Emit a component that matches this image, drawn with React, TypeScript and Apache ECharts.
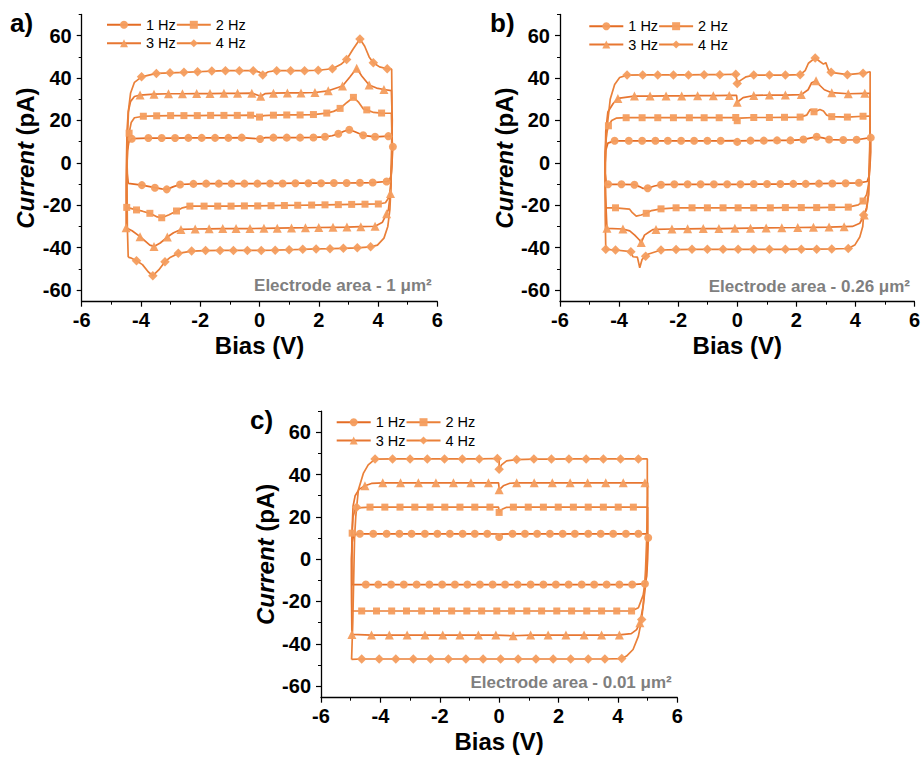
import React, { useEffect, useRef } from 'react';
import * as echarts from 'echarts';

type Pt = [number, number, number?];

// ---- Panel a (Electrode area 1 µm²): loops [bias V, current pA, marker flag]
const a1Hz: Pt[] = [
  [-4.43, -9.7], [-4.46, -5], [-4.47, 0], [-4.45, 6], [-4.41, 9.8], [-4.31, 11.4, 1],
  [-3.75, 11.7, 1], [-3.3, 11.7, 1], [-2.85, 11.7, 1], [-2.4, 11.8, 1], [-1.95, 11.8, 1], [-1.5, 11.8, 1],
  [-1.05, 11.8, 1], [-0.6, 11.9, 1], [0.02, 11.3, 1], [0.2, 11.9], [0.47, 11.9, 1], [0.92, 11.9, 1],
  [1.37, 11.9, 1], [1.82, 12.0, 1], [2.21, 12.3, 1], [2.45, 12.8], [2.66, 13.7, 1], [2.85, 14.9],
  [3.03, 15.6, 1], [3.2, 14.8], [3.5, 13.0, 1], [3.9, 12.3, 1], [4.35, 12.6, 1], [4.45, 12.6],
  [4.5, 7.6, 1], [4.47, 0], [4.44, -6], [4.38, -8.4], [4.29, -8.8, 1],
  [3.82, -9.3, 1], [3.39, -9.4, 1], [2.94, -9.5, 1], [2.51, -9.5, 1], [2.08, -9.6, 1], [1.65, -9.6, 1],
  [1.21, -9.6, 1], [0.78, -9.7, 1], [0.36, -9.7, 1], [-0.07, -9.8, 1], [-0.51, -9.8, 1], [-0.94, -9.8, 1],
  [-1.37, -9.8, 1], [-1.8, -9.8, 1], [-2.23, -9.9, 1], [-2.68, -10.2, 1], [-2.9, -11.2], [-3.13, -12.5, 1],
  [-3.3, -12.3], [-3.53, -11.7, 1], [-3.97, -10.5, 1], [-4.3, -9.9], [-4.43, -9.7],
];
const a2Hz: Pt[] = [
  [-4.48, -21.0], [-4.49, -10], [-4.47, 5], [-4.4, 14, 1], [-4.33, 19], [-4.22, 21.3], [-3.92, 22.0, 1],
  [-3.47, 22.2, 1], [-3.0, 22.3, 1], [-2.55, 22.3, 1], [-2.1, 22.3, 1], [-1.65, 22.4, 1], [-1.2, 22.4, 1],
  [-0.75, 22.4, 1], [-0.3, 22.5, 1], [0.0, 21.6, 1], [0.15, 22.3], [0.47, 22.5, 1], [0.92, 22.6, 1],
  [1.37, 22.6, 1], [1.82, 22.8, 1], [2.27, 23.5, 1], [2.5, 24.3], [2.72, 25.7, 1], [2.95, 28.5],
  [3.17, 30.9, 1], [3.35, 28.5], [3.5, 25.5], [3.62, 25.0, 1], [3.85, 23.8], [4.12, 23.5, 1], [4.45, 23.4],
  [4.48, 10], [4.46, 0], [4.43, -10], [4.38, -16], [4.25, -18.8], [4.01, -19.4, 1],
  [3.56, -19.5, 1], [3.11, -19.6, 1], [2.66, -19.7, 1], [2.21, -19.8, 1], [1.76, -19.9, 1], [1.29, -20.0, 1],
  [0.84, -20.1, 1], [0.39, -20.2, 1], [-0.06, -20.3, 1], [-0.51, -20.3, 1], [-0.96, -20.4, 1], [-1.41, -20.4, 1],
  [-1.87, -20.4, 1], [-2.35, -20.4, 1], [-2.6, -21.2], [-2.8, -22.7, 1], [-3.05, -24.5], [-3.3, -25.9, 1],
  [-3.45, -25.5], [-3.7, -23.8, 1], [-3.95, -22.8], [-4.15, -22.2, 1], [-4.48, -21.0, 1],
];
const a3Hz: Pt[] = [
  [-4.5, -30.6, 1], [-4.5, -15], [-4.49, 0], [-4.47, 15], [-4.43, 24], [-4.35, 29], [-4.22, 31.3],
  [-4.03, 32.0, 1], [-3.56, 32.4, 1], [-3.07, 32.6, 1], [-2.6, 32.6, 1], [-2.12, 32.7, 1], [-1.67, 32.7, 1],
  [-1.2, 32.8, 1], [-0.74, 32.8, 1], [-0.26, 32.9, 1], [0.04, 31.4, 1], [0.2, 32.7], [0.47, 32.9, 1],
  [0.94, 33.0, 1], [1.4, 33.0, 1], [1.87, 33.2, 1], [2.32, 34.0, 1], [2.8, 36.3, 1], [3.05, 40.5],
  [3.28, 44.6, 1], [3.45, 41.0], [3.7, 36.7, 1], [3.95, 35.3], [4.2, 34.6, 1], [4.45, 34.1],
  [4.48, 20], [4.46, 0], [4.42, -14.4, 1], [4.35, -22], [4.29, -24, 1], [4.15, -28], [3.9, -29.9, 1],
  [3.42, -30.1, 1], [2.95, -30.3, 1], [2.48, -30.4, 1], [2.0, -30.5, 1], [1.55, -30.6, 1], [1.08, -30.7, 1],
  [0.6, -30.8, 1], [0.15, -30.9, 1], [-0.32, -31.0, 1], [-0.79, -31.0, 1], [-1.24, -31.0, 1], [-1.7, -31.1, 1],
  [-2.17, -31.2, 1], [-2.65, -31.4, 1], [-2.9, -33.0], [-3.11, -35.0, 1], [-3.35, -37.8], [-3.56, -39.4, 1],
  [-3.7, -38.8], [-4.03, -34.8, 1], [-4.3, -32.0], [-4.5, -30.6],
];
const a4Hz: Pt[] = [
  [-4.43, -44.5], [-4.46, -30], [-4.47, -10], [-4.46, 10], [-4.42, 25], [-4.35, 33], [-4.22, 38],
  [-3.98, 40.6, 1], [-3.48, 42.2, 1], [-3.02, 42.5, 1], [-2.55, 42.7, 1], [-2.09, 43.0, 1], [-1.61, 43.3, 1],
  [-1.15, 43.5, 1], [-0.68, 43.5, 1], [-0.21, 43.5, 1], [0.0, 42.8], [0.11, 41.5, 1], [0.3, 43.0],
  [0.58, 43.5, 1], [1.05, 43.5, 1], [1.52, 43.5, 1], [1.98, 43.7, 1], [2.46, 44.4, 1], [2.75, 46.5],
  [2.94, 48.8, 1], [3.15, 53.5], [3.39, 58.4, 1], [3.55, 55.0], [3.7, 50.0], [3.84, 47.2, 1], [4.05, 45.3],
  [4.31, 44.4, 1], [4.46, 44.2],
  [4.47, 30], [4.46, 10], [4.44, -10], [4.4, -22], [4.33, -30], [4.2, -35.5], [3.98, -38.8], [3.75, -39.6, 1],
  [3.3, -40.1, 1], [2.83, -40.3, 1], [2.38, -40.5, 1], [1.91, -40.6, 1], [1.46, -40.8, 1], [1.0, -41.0, 1],
  [0.53, -41.2, 1], [0.06, -41.3, 1], [-0.41, -41.3, 1], [-0.88, -41.3, 1], [-1.33, -41.3, 1], [-1.82, -41.4, 1],
  [-2.29, -41.6, 1], [-2.74, -42.7, 1], [-3.0, -44.5], [-3.19, -46.6, 1], [-3.4, -50.5], [-3.6, -53.2, 1],
  [-3.75, -51.5], [-3.95, -48.0], [-4.15, -46.2, 1], [-4.35, -44.8], [-4.43, -44.5],
];

// ---- Panel b (Electrode area 0.26 µm²)
const b1Hz: Pt[] = [
  [-4.43, -10.1], [-4.47, -5], [-4.47, 0], [-4.45, 6], [-4.38, 9.3], [-4.15, 10.4, 1],
  [-3.67, 10.4, 1], [-3.22, 10.4, 1], [-2.77, 10.4, 1], [-2.35, 10.4, 1], [-1.9, 10.4, 1], [-1.46, 10.4, 1],
  [-1.01, 10.4, 1], [-0.56, 10.4, 1], [-0.1, 10.5], [0.0, 9.9, 1], [0.1, 10.4], [0.45, 10.5, 1],
  [0.9, 10.5, 1], [1.35, 10.6, 1], [1.8, 10.6, 1], [2.24, 11.0, 1], [2.5, 11.8], [2.69, 12.3, 1],
  [2.9, 11.8], [3.11, 11.0, 1], [3.59, 10.8, 1], [4.04, 10.9, 1], [4.52, 11.9, 1],
  [4.52, 5], [4.5, 0], [4.47, -6], [4.4, -8.8], [4.12, -9.4, 1],
  [3.67, -9.6, 1], [3.22, -9.7, 1], [2.77, -9.8, 1], [2.32, -9.9, 1], [1.9, -9.9, 1], [1.46, -10.0, 1],
  [1.01, -10.0, 1], [0.56, -10.0, 1], [0.11, -10.1, 1], [-0.34, -10.1, 1], [-0.79, -10.1, 1], [-1.24, -10.1, 1],
  [-1.68, -10.1, 1], [-2.13, -10.1, 1], [-2.58, -10.3, 1], [-2.8, -10.9], [-3.03, -12.0, 1], [-3.2, -12.0],
  [-3.31, -11.2], [-3.48, -10.3, 1], [-3.92, -10.1, 1], [-4.37, -10.1, 1], [-4.43, -10.1],
];
const b2Hz: Pt[] = [
  [-4.45, -21.2], [-4.47, -10], [-4.47, 5], [-4.42, 14], [-4.36, 17.5, 1], [-4.25, 20], [-4.1, 21.1],
  [-3.76, 21.3, 1], [-3.22, 21.3, 1], [-2.69, 21.3, 1], [-2.16, 21.3, 1], [-1.62, 21.3, 1], [-1.12, 21.3, 1],
  [-0.61, 21.3, 1], [-0.05, 21.4, 1], [0.0, 19.9, 1], [0.1, 21.1], [0.56, 21.4, 1], [1.09, 21.4, 1],
  [1.6, 21.5, 1], [2.13, 21.6, 1], [2.35, 22.5], [2.47, 25.2], [2.6, 24.1, 1], [2.69, 24.5], [2.8, 25.2],
  [2.92, 24.5], [3.03, 22.5], [3.2, 21.8, 1], [3.73, 21.6, 1], [4.26, 22.0, 1], [4.5, 22.1],
  [4.5, 10], [4.48, 0], [4.45, -10], [4.38, -15], [4.26, -18.0, 1], [4.1, -19.8],
  [3.76, -20.9, 1], [3.2, -21.0, 1], [2.69, -21.1, 1], [2.17, -21.1, 1], [1.63, -21.1, 1], [1.12, -21.2, 1],
  [0.56, -21.2, 1], [0.03, -21.2, 1], [-0.48, -21.2, 1], [-1.01, -21.2, 1], [-1.53, -21.2, 1], [-2.07, -21.2, 1],
  [-2.58, -21.7, 1], [-2.9, -22.5], [-3.08, -23.8, 1], [-3.25, -24.6], [-3.42, -25.1], [-3.55, -23.5],
  [-3.65, -21.8], [-4.12, -21.2, 1], [-4.45, -21.2],
];
const b3Hz: Pt[] = [
  [-4.41, -30.9, 1], [-4.46, -15], [-4.47, 0], [-4.45, 15], [-4.38, 24], [-4.2, 28], [-4.04, 30.4, 1],
  [-3.48, 31.5, 1], [-2.95, 31.5, 1], [-2.41, 31.6, 1], [-1.88, 31.6, 1], [-1.34, 31.7, 1], [-0.81, 31.7, 1],
  [-0.27, 31.8, 1], [-0.02, 31.8], [0.0, 28.6, 1], [0.2, 30.8], [0.56, 31.8, 1], [1.09, 32.0, 1],
  [1.63, 32.0, 1], [2.17, 32.2, 1], [2.4, 34.5], [2.52, 37.8], [2.67, 38.7, 1], [2.8, 36.5], [2.95, 34.5],
  [3.2, 33.1, 1], [3.76, 32.6, 1], [4.32, 32.8, 1], [4.5, 32.8],
  [4.5, 15], [4.48, 0], [4.44, -15], [4.38, -21], [4.3, -24.6, 1], [4.15, -28.5], [3.9, -30.0], [3.62, -30.1, 1],
  [3.11, -30.3, 1], [2.58, -30.4, 1], [2.05, -30.5, 1], [1.51, -30.6, 1], [0.98, -30.7, 1], [0.45, -30.8, 1],
  [-0.08, -30.9, 1], [-0.62, -31.0, 1], [-1.15, -31.0, 1], [-1.68, -31.1, 1], [-2.21, -31.2, 1], [-2.75, -31.4, 1],
  [-2.86, -31.5], [-2.97, -32.5], [-3.14, -34.1], [-3.25, -37.6, 1], [-3.31, -36.4], [-3.47, -34.1],
  [-3.64, -32.1], [-3.87, -31.2, 1], [-4.41, -30.9],
];
const b4Hz: Pt[] = [
  [-4.45, -40.8, 1], [-4.47, -25], [-4.47, -5], [-4.45, 10], [-4.38, 20], [-4.3, 30], [-4.15, 37],
  [-3.98, 40.3], [-3.73, 41.4, 1], [-3.2, 41.5, 1], [-2.69, 41.5, 1], [-2.16, 41.5, 1], [-1.65, 41.5, 1],
  [-1.12, 41.6, 1], [-0.59, 41.6, 1], [-0.05, 41.8, 1], [0.0, 37.5, 1], [0.1, 38.8], [0.3, 40.6],
  [0.56, 41.4, 1], [1.09, 41.4, 1], [1.63, 41.4, 1], [2.13, 41.6, 1], [2.3, 43.5], [2.41, 47.0],
  [2.64, 49.5, 1], [2.81, 47.7], [2.92, 46.6], [3.0, 47.3], [3.09, 43.8], [3.18, 42.7, 1], [3.73, 41.6, 1],
  [4.26, 42.3, 1], [4.5, 43.0],
  [4.5, 25], [4.48, 0], [4.45, -15], [4.38, -22], [4.28, -24.6, 1], [4.25, -30], [4.15, -35], [3.98, -38.8],
  [3.76, -40.4, 1], [3.2, -40.6, 1], [2.69, -40.7, 1], [2.17, -40.7, 1], [1.63, -40.8, 1], [1.09, -40.8, 1],
  [0.56, -40.8, 1], [0.03, -40.8, 1], [-0.48, -40.8, 1], [-1.01, -40.8, 1], [-1.53, -40.8, 1], [-2.07, -40.9, 1],
  [-2.58, -41.1, 1], [-3.0, -43.0], [-3.1, -44.0, 1], [-3.22, -45.5], [-3.3, -49.5], [-3.38, -44.5],
  [-3.53, -44.3], [-3.6, -41.9, 1], [-4.12, -41.1, 1], [-4.45, -40.8],
];

// ---- Panel c (Electrode area 0.01 µm²)
const c1Hz: Pt[] = [
  [-4.96, -12.0], [-4.97, 0], [-4.95, 8], [-4.9, 11.5], [-4.69, 12.0, 1], [-4.24, 12.0, 1], [-3.79, 12.0, 1],
  [-3.36, 12.0, 1], [-2.95, 12.0, 1], [-2.5, 12.0, 1], [-2.08, 12.0, 1], [-1.66, 12.0, 1], [-1.23, 12.0, 1],
  [-0.82, 12.0, 1], [-0.4, 12.0, 1], [-0.02, 11.9], [0.0, 10.5, 1], [0.05, 11.8], [0.45, 12.0, 1],
  [0.87, 12.0, 1], [1.28, 12.0, 1], [1.71, 12.0, 1], [2.14, 12.0, 1], [2.55, 12.0, 1], [3.0, 12.0, 1],
  [3.42, 12.0, 1], [3.84, 12.0, 1], [4.27, 12.0, 1], [4.69, 12.0, 1], [5.0, 12.0], [5.02, 10.1, 1],
  [5.0, 0], [4.97, -8], [4.93, -11], [4.91, -11.6, 1],
  [4.48, -12.0, 1], [4.05, -12.0, 1], [3.62, -12.0, 1], [3.2, -12.0, 1], [2.78, -12.0, 1], [2.34, -12.0, 1],
  [1.91, -12.0, 1], [1.49, -12.0, 1], [1.06, -12.0, 1], [0.62, -12.0, 1], [0.2, -12.0, 1], [-0.22, -12.0, 1],
  [-0.65, -12.0, 1], [-1.07, -12.0, 1], [-1.49, -12.0, 1], [-1.92, -12.0, 1], [-2.35, -12.0, 1], [-2.78, -12.0, 1],
  [-3.21, -12.0, 1], [-3.64, -12.0, 1], [-4.07, -12.0, 1], [-4.49, -12.0, 1], [-4.96, -12.0],
];
const c2Hz: Pt[] = [
  [-4.96, -24.5], [-4.97, -10], [-4.96, 5], [-4.95, 12.3, 1], [-4.92, 20], [-4.85, 23.5], [-4.63, 24.4],
  [-4.35, 24.6, 1], [-3.85, 24.6, 1], [-3.34, 24.6, 1], [-2.84, 24.6, 1], [-2.33, 24.6, 1], [-1.83, 24.6, 1],
  [-1.32, 24.6, 1], [-0.82, 24.6, 1], [-0.31, 24.6, 1], [-0.02, 24.6], [0.0, 22.1, 1], [0.1, 23.6],
  [0.25, 24.5], [0.48, 24.6, 1], [0.98, 24.6, 1], [1.49, 24.6, 1], [1.99, 24.6, 1], [2.5, 24.6, 1],
  [3.0, 24.6, 1], [3.51, 24.6, 1], [4.01, 24.6, 1], [4.52, 24.6, 1], [5.0, 24.6],
  [5.0, 10], [4.98, 0], [4.93, -10], [4.85, -17], [4.8, -18.9], [4.69, -23.0], [4.46, -24.5, 1],
  [3.96, -24.5, 1], [3.45, -24.5, 1], [2.95, -24.5, 1], [2.44, -24.5, 1], [1.94, -24.5, 1], [1.43, -24.5, 1],
  [0.93, -24.5, 1], [0.42, -24.5, 1], [-0.08, -24.5, 1], [-0.59, -24.5, 1], [-1.09, -24.5, 1], [-1.6, -24.5, 1],
  [-2.11, -24.5, 1], [-2.61, -24.5, 1], [-3.12, -24.5, 1], [-3.62, -24.5, 1], [-4.13, -24.5, 1], [-4.63, -24.5, 1],
  [-4.96, -24.5],
];
const c3Hz: Pt[] = [
  [-4.96, -35.6, 1], [-4.97, -20], [-4.97, 0], [-4.95, 15], [-4.92, 25], [-4.85, 30], [-4.72, 33],
  [-4.52, 34.7, 1], [-4.3, 35.8], [-3.92, 36.1, 1], [-3.32, 36.1, 1], [-2.72, 36.1, 1], [-2.13, 36.1, 1],
  [-1.54, 36.1, 1], [-0.95, 36.1, 1], [-0.36, 36.1, 1], [-0.02, 36.1], [0.0, 32.8, 1], [0.14, 34.7],
  [0.36, 35.9], [0.59, 36.1, 1], [1.18, 36.1, 1], [1.79, 36.1, 1], [2.39, 36.1, 1], [2.98, 36.1, 1],
  [3.59, 36.1, 1], [4.18, 36.1, 1], [4.91, 36.1, 1], [5.0, 36.1],
  [5.0, 15], [4.98, 0], [4.93, -12], [4.85, -22.3], [4.74, -30.1, 1], [4.63, -33.3], [4.45, -35.2],
  [4.05, -35.8, 1], [3.45, -35.9, 1], [2.86, -35.9, 1], [2.25, -35.9, 1], [1.65, -35.9, 1], [1.06, -35.9, 1],
  [0.47, -36.2, 1], [-0.11, -35.9, 1], [-0.7, -35.9, 1], [-1.32, -35.9, 1], [-1.9, -35.9, 1], [-2.5, -35.9, 1],
  [-3.1, -35.9, 1], [-3.7, -35.9, 1], [-4.3, -35.9, 1], [-4.96, -35.6],
];
const c4Hz: Pt[] = [
  [-4.97, -47.4], [-4.93, -30], [-4.9, -10], [-4.87, 10], [-4.83, 20], [-4.8, 24.5, 1], [-4.74, 32.8],
  [-4.57, 40.7], [-4.41, 44.6], [-4.18, 47.3, 1], [-3.59, 47.4, 1], [-3.0, 47.4, 1], [-2.42, 47.4, 1],
  [-1.84, 47.4, 1], [-1.24, 47.4, 1], [-0.67, 47.4, 1], [-0.06, 47.6, 1], [0.0, 47.5], [0.0, 42.5, 1],
  [0.08, 44.6], [0.25, 46.5], [0.59, 47.1, 1], [1.17, 47.3, 1], [1.76, 47.3, 1], [2.35, 47.4, 1],
  [2.93, 47.4, 1], [3.51, 47.4, 1], [4.09, 47.4, 1], [4.69, 47.4, 1], [4.99, 47.4],
  [4.99, 30], [4.97, 10], [4.93, -5], [4.88, -17.5], [4.8, -28.5, 1], [4.69, -36.4], [4.51, -42.7],
  [4.29, -45.8], [4.13, -47.0, 1], [3.56, -47.2, 1], [3.0, -47.2, 1], [2.41, -47.2, 1], [1.82, -47.2, 1],
  [1.24, -47.2, 1], [0.64, -47.2, 1], [0.05, -47.2, 1], [-0.54, -47.2, 1], [-1.12, -47.2, 1], [-1.71, -47.2, 1],
  [-2.31, -47.2, 1], [-2.89, -47.2, 1], [-3.48, -47.2, 1], [-4.04, -47.2, 1], [-4.63, -47.2, 1], [-4.97, -47.4],
];

const FREQS = ['1 Hz', '2 Hz', '3 Hz', '4 Hz'];
const SYMBOLS = ['circle', 'rect', 'triangle', 'diamond'];
const SYMBOL_SIZES = [8, 7, 9, 9.5];
const LINE_COLORS = ['#E46C24', '#EA8039', '#E77631', '#EA8039'];
const MARKER_COLOR = '#F49D5E';
const PANEL_LOOPS: Pt[][][] = [
  [a1Hz, a2Hz, a3Hz, a4Hz],
  [b1Hz, b2Hz, b3Hz, b4Hz],
  [c1Hz, c2Hz, c3Hz, c4Hz],
];
const PANEL_LETTERS = ['a)', 'b)', 'c)'];
const AREA_LABELS = ['Electrode area - 1 μm²', 'Electrode area - 0.26 μm²', 'Electrode area - 0.01 μm²'];
const Y_MAJOR = [-60, -40, -20, 0, 20, 40, 60];
const Y_MINOR = [-50, -30, -10, 10, 30, 50, 70];

const FONT = '"Liberation Sans", Arial, Helvetica, sans-serif';

// layout (pixels)
const GRIDS = [
  { left: 81.7, top: 14.5, width: 355.6, height: 287.2 },
  { left: 560, top: 14.5, width: 356.7, height: 287.2 },
  { left: 321, top: 411.1, width: 356.3, height: 286.6 },
];
const LEGEND_POS = [
  { left: 106, top: 17.3 },
  { left: 588.3, top: 18.7 },
  { left: 335.7, top: 414.7 },
];
const LETTER_POS = [
  [10, 23],
  [490, 23],
  [250, 420],
];
const AREA_POS = [
  [431.7, 285.5],
  [910, 286],
  [671.7, 682.5],
];

function buildOption(): any {
  const black = '#000';
  const xAxis = GRIDS.map((_, i) => ({
    gridIndex: i,
    type: 'value',
    min: -6,
    max: 6,
    interval: 2,
    axisLine: { show: true, onZero: false, lineStyle: { color: black, width: 1.3 } },
    axisTick: { show: true, inside: false, length: 5, lineStyle: { color: black, width: 1.2 } },
    minorTick: { show: true, splitNumber: 2, length: 3, lineStyle: { color: black, width: 1 } },
    splitLine: { show: false },
    minorSplitLine: { show: false },
    axisLabel: { fontSize: 20, fontWeight: 'bold', color: black, fontFamily: FONT, margin: 8 },
    name: 'Bias (V)',
    nameLocation: 'middle',
    nameGap: 32,
    nameTextStyle: { fontSize: 24, fontWeight: 'bold', color: black, fontFamily: FONT },
  }));
  const yAxis: any[] = [];
  GRIDS.forEach((_, i) => {
    yAxis.push({
      gridIndex: i,
      type: 'value',
      position: 'left',
      min: -65.5,
      max: 70,
      axisLine: { show: true, onZero: false, lineStyle: { color: black, width: 1.3 } },
      axisTick: { show: true, inside: false, length: 5, customValues: Y_MAJOR, lineStyle: { color: black, width: 1.2 } },
      axisLabel: { customValues: Y_MAJOR, fontSize: 20, fontWeight: 'bold', color: black, fontFamily: FONT, margin: 10 },
      splitLine: { show: false },
      name: '{it|Current} (pA)',
      nameLocation: 'middle',
      nameGap: 44,
      nameTextStyle: {
        fontSize: 24,
        fontWeight: 'bold',
        color: black,
        fontFamily: FONT,
        rich: { it: { fontSize: 24, fontWeight: 'bold', fontStyle: 'italic', color: black, fontFamily: FONT } },
      },
    });
    yAxis.push({
      gridIndex: i,
      type: 'value',
      position: 'left',
      min: -65.5,
      max: 70,
      axisLine: { show: false, onZero: false },
      axisTick: { show: true, inside: false, length: 3, customValues: Y_MINOR, lineStyle: { color: black, width: 1 } },
      axisLabel: { show: false },
      splitLine: { show: false },
    });
  });

  const series: any[] = [];
  PANEL_LOOPS.forEach((loops, pi) => {
    loops.forEach((loop, fi) => {
      series.push({
        type: 'line',
        name: FREQS[fi],
        xAxisIndex: pi,
        yAxisIndex: pi * 2,
        data: loop.map((p) => (p[2] ? { value: [p[0], p[1]] } : { value: [p[0], p[1]], symbol: 'none' })),
        symbol: SYMBOLS[fi],
        symbolSize: SYMBOL_SIZES[fi],
        showSymbol: true,
        showAllSymbol: true,
        smooth: false,
        silent: true,
        clip: false,
        lineStyle: { color: LINE_COLORS[fi], width: 1.7 },
        itemStyle: { color: MARKER_COLOR, opacity: 0.95 },
        emphasis: { disabled: true },
      });
    });
  });

  const legend: any[] = [];
  LEGEND_POS.forEach((pos) => {
    [[FREQS[0], FREQS[1]], [FREQS[2], FREQS[3]]].forEach((row, r) => {
      legend.push({
        data: row,
        left: pos.left,
        top: pos.top + r * 18.4,
        orient: 'horizontal',
        padding: 0,
        itemGap: 0,
        itemWidth: 34,
        itemHeight: 10,
        selectedMode: false,
        textStyle: { fontSize: 14.5, color: black, fontFamily: FONT },
      });
    });
  });

  const graphic: any[] = [];
  PANEL_LETTERS.forEach((t, i) => {
    graphic.push({
      type: 'text',
      x: LETTER_POS[i][0],
      y: LETTER_POS[i][1],
      silent: true,
      style: { text: t, fill: black, font: `bold 26px ${FONT}`, align: 'left', verticalAlign: 'middle' },
    });
  });
  AREA_LABELS.forEach((t, i) => {
    graphic.push({
      type: 'text',
      x: AREA_POS[i][0],
      y: AREA_POS[i][1],
      silent: true,
      style: { text: t, fill: '#7f7f7f', font: `bold 17px ${FONT}`, align: 'right', verticalAlign: 'middle' },
    });
  });

  return {
    animation: false,
    backgroundColor: '#ffffff',
    textStyle: { fontFamily: FONT },
    grid: GRIDS.map((g) => ({ ...g, containLabel: false })),
    xAxis,
    yAxis,
    legend,
    series,
    graphic,
  };
}

export default function App() {
  const ref = useRef<HTMLDivElement>(null);
  useEffect(() => {
    if (!ref.current) return;
    const chart = echarts.init(ref.current, null, { renderer: 'svg' });
    chart.setOption(buildOption());
    return () => chart.dispose();
  }, []);
  return (
    <div
      ref={ref}
      style={{ position: 'fixed', left: 0, top: 0, width: 923, height: 757, background: '#fff' }}
    />
  );
}
